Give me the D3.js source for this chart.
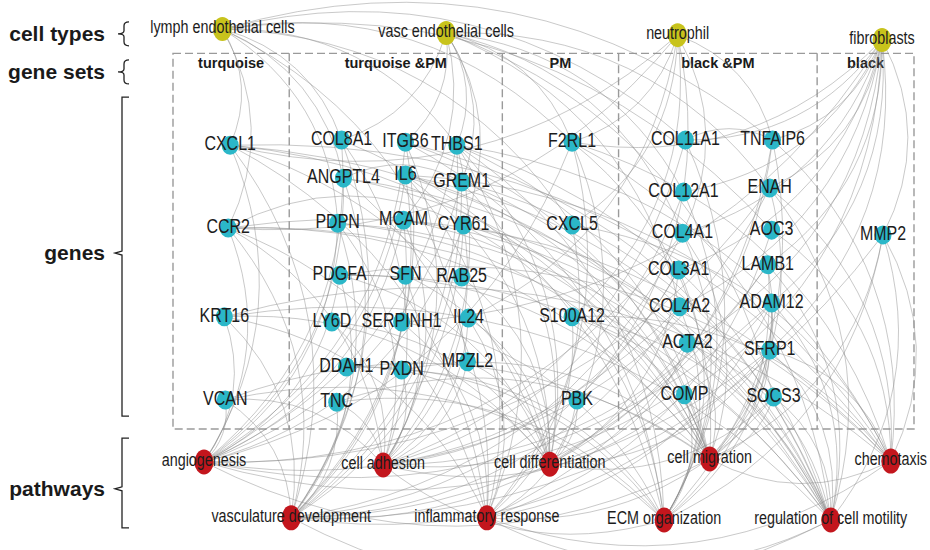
<!DOCTYPE html>
<html lang="en">
<head>
<meta charset="utf-8">
<title>Cell types, gene sets, genes and pathways</title>
<script src="https://cdn.jsdelivr.net/npm/d3@7"></script>
<style>
  body { margin: 0; background: #fff; }
  text { font-family: "Liberation Sans", Arial, sans-serif; }
</style>
</head>
<body>
<script>

// ---- data ----
var tierNames = ["cell types", "gene sets", "genes", "pathways"];

var cellTypes = ["lymph endothelial cells", "vasc endothelial cells", "neutrophil", "fibroblasts"];
var cellTypeCol = [0.51, 2.82, 5.21, 7.32];
var cellTypeRow = [-2.56, -2.47, -2.42, -2.31];

var geneSets = ["turquoise", "turquoise &PM", "PM", "black &PM", "black"];
var geneSetBounds = [0, 1.2, 3.4, 4.6, 6.65, 7.65];

var genes = ["CXCL1", "CCR2", "KRT16", "VCAN",
  "COL8A1", "ITGB6", "THBS1", "ANGPTL4", "IL6", "GREM1", "PDPN", "MCAM", "CYR61",
  "PDGFA", "SFN", "RAB25", "LY6D", "SERPINH1", "IL24", "DDAH1", "PXDN", "MPZL2", "TNC",
  "F2RL1", "CXCL5", "S100A12", "PBK",
  "COL11A1", "COL12A1", "COL4A1", "COL3A1", "COL4A2", "ACTA2", "COMP",
  "TNFAIP6", "ENAH", "AOC3", "LAMB1", "ADAM12", "SFRP1", "SOCS3",
  "MMP2"];
var geneCol = [0.59, 0.57, 0.53, 0.54,
  1.74, 2.40, 2.93, 1.76, 2.40, 2.98, 1.70, 2.38, 3.00,
  1.72, 2.40, 2.98, 1.64, 2.36, 3.05, 1.79, 2.36, 3.04, 1.69,
  4.12, 4.12, 4.12, 4.17,
  5.29, 5.27, 5.26, 5.22, 5.23, 5.31, 5.28,
  6.19, 6.16, 6.18, 6.14, 6.18, 6.16, 6.20,
  7.33];
var geneRow = [0.12, 2.03, 4.08, 6.0,
  0.0, 0.05, 0.12, 0.88, 0.81, 0.97, 1.92, 1.85, 1.96,
  3.12, 3.12, 3.16, 4.2, 4.2, 4.11, 5.24, 5.31, 5.12, 6.05,
  0.05, 1.96, 4.08, 6.0,
  0.0, 1.2, 2.15, 3.0, 3.85, 4.69, 5.88,
  0.0, 1.11, 2.08, 2.88, 3.76, 4.85, 5.93,
  2.19];

var pathways = ["angiogenesis", "cell adhesion", "cell differentiation", "cell migration", "chemotaxis",
  "vasculature development", "inflammatory response", "ECM organization", "regulation of cell motility"];
var pathwayCol = [0.32, 2.17, 3.89, 5.54, 7.41, 1.22, 3.24, 5.07, 6.79];
var pathwayRow = [7.43, 7.5, 7.48, 7.36, 7.41, 8.72, 8.72, 8.77, 8.77];

// links
var cellTypeGenes = [
  ["CXCL1", "CCR2", "PDPN", "ANGPTL4", "COL8A1", "F2RL1", "TNFAIP6", "COL11A1", "AOC3", "MPZL2", "THBS1", "CXCL5"],
  ["COL8A1", "MCAM", "CYR61", "THBS1", "COL4A1", "COL4A2", "ENAH", "ITGB6", "GREM1", "SOCS3", "COL12A1", "F2RL1"],
  ["CXCL1", "CXCL5", "S100A12", "CCR2", "TNFAIP6", "IL24", "F2RL1", "PBK", "COL4A1"],
  ["COL11A1", "TNFAIP6", "COL12A1", "COL3A1", "COL4A2", "LAMB1", "ADAM12", "SFRP1", "MMP2", "COMP", "ACTA2", "F2RL1", "ENAH", "SERPINH1", "COL4A1"]
];
var pathwayGenes = [
  ["CXCL1", "CCR2", "KRT16", "VCAN", "ANGPTL4", "IL6", "PDGFA", "CYR61", "THBS1", "GREM1", "COL8A1", "MCAM", "SFRP1", "COL4A2", "COL4A1", "ADAM12", "PDPN", "ITGB6", "F2RL1", "ENAH"],
  ["ITGB6", "MCAM", "COL8A1", "PDPN", "THBS1", "CYR61", "TNC", "LY6D", "COL11A1", "COL12A1", "LAMB1", "COMP", "ADAM12", "VCAN", "SFN", "MPZL2", "CCR2", "PXDN", "COL3A1", "IL24", "ENAH"],
  ["KRT16", "SFN", "IL6", "RAB25", "LY6D", "DDAH1", "ACTA2", "SOCS3", "SFRP1", "GREM1", "PDGFA", "COL3A1", "PBK", "MPZL2", "IL24", "CXCL1", "THBS1", "TNFAIP6", "F2RL1"],
  ["CXCL1", "CCR2", "IL6", "PDGFA", "THBS1", "CYR61", "ACTA2", "ENAH", "LAMB1", "ADAM12", "MMP2", "SFRP1", "F2RL1", "MCAM", "PDPN", "ITGB6", "ANGPTL4", "S100A12", "SOCS3", "COL4A1", "VCAN", "TNC", "GREM1", "PXDN"],
  ["CXCL1", "CCR2", "CXCL5", "S100A12", "IL6", "PDGFA", "F2RL1", "ENAH", "AOC3", "THBS1", "TNFAIP6", "MMP2", "KRT16", "SFRP1"],
  ["CXCL1", "VCAN", "KRT16", "ANGPTL4", "PDGFA", "CYR61", "THBS1", "GREM1", "COL8A1", "PDPN", "MCAM", "COL4A1", "COL3A1", "COL4A2", "SFRP1", "MMP2", "ACTA2", "TNC", "ITGB6", "IL6", "CCR2", "LAMB1"],
  ["CXCL1", "CCR2", "IL6", "CXCL5", "S100A12", "F2RL1", "TNFAIP6", "SOCS3", "IL24", "THBS1", "KRT16", "AOC3", "ANGPTL4", "PBK", "SERPINH1", "ADAM12"],
  ["COL8A1", "COL11A1", "COL12A1", "COL4A1", "COL3A1", "COL4A2", "COMP", "SERPINH1", "PXDN", "TNC", "LAMB1", "ADAM12", "MMP2", "VCAN", "THBS1", "TNFAIP6", "CYR61", "ITGB6", "DDAH1"],
  ["PDGFA", "THBS1", "CYR61", "ANGPTL4", "IL6", "SFRP1", "ENAH", "F2RL1", "MMP2", "SOCS3", "ITGB6", "MCAM", "PDPN", "ADAM12", "LAMB1", "ACTA2", "GREM1", "CXCL1", "CCR2", "S100A12", "KRT16"]
];
var otherLinks = [["COL11A1", "TNFAIP6"], ["ANGPTL4", "GREM1"], ["CCR2", "CYR61"],
  ["regulation of cell motility", "vasculature development"], ["ECM organization", "cell adhesion"],
  ["chemotaxis", "inflammatory response"], ["regulation of cell motility", "inflammatory response"],
  ["chemotaxis", "cell migration"], ["cell migration", "angiogenesis"]];

// ---- layout ----
var W = 930, H = 550;
var x = d3.scaleLinear().domain([0, 7.65]).range([173, 914]);
var y = d3.scaleLinear().domain([0, 6]).range([140, 400]);

var svg = d3.select("body").append("svg")
  .attr("width", W)
  .attr("height", H);

// node table built from the arrays
var nodes = {};
cellTypes.forEach(function(d, i) { nodes[d] = {name: d, kind: "cell", cx: x(cellTypeCol[i]), cy: y(cellTypeRow[i])}; });
genes.forEach(function(d, i) { nodes[d] = {name: d, kind: "gene", cx: x(geneCol[i]), cy: y(geneRow[i])}; });
pathways.forEach(function(d, i) { nodes[d] = {name: d, kind: "path", cx: x(pathwayCol[i]), cy: y(pathwayRow[i])}; });

var links = [];
cellTypes.forEach(function(c, i) { cellTypeGenes[i].forEach(function(g) { links.push([c, g]); }); });
pathways.forEach(function(p, i) { pathwayGenes[i].forEach(function(g) { links.push([g, p]); }); });
otherLinks.forEach(function(l) { links.push(l); });

// gene set boxes
var boxTop = y(-2.0), boxBottom = y(6.67);
svg.append("rect")
  .attr("x", x(geneSetBounds[0]))
  .attr("y", boxTop)
  .attr("width", x(geneSetBounds[5]) - x(geneSetBounds[0]))
  .attr("height", boxBottom - boxTop)
  .attr("fill", "none")
  .attr("stroke", "#9a9a9a")
  .attr("stroke-width", 1.4)
  .attr("stroke-dasharray", "8,4");

svg.selectAll("line.divider")
  .data(geneSetBounds.slice(1, 5))
  .enter()
  .append("line")
  .attr("class", "divider")
  .attr("x1", function(d) { return x(d); })
  .attr("x2", function(d) { return x(d); })
  .attr("y1", boxTop)
  .attr("y2", boxBottom)
  .attr("stroke", "#9a9a9a")
  .attr("stroke-width", 1.4)
  .attr("stroke-dasharray", "8,4");

svg.selectAll("text.set")
  .data(geneSets)
  .enter()
  .append("text")
  .attr("class", "set")
  .attr("x", function(d, i) { return x((geneSetBounds[i] + geneSetBounds[i + 1]) / 2); })
  .attr("y", y(-1.66))
  .attr("text-anchor", "middle")
  .attr("font-size", "14.5px")
  .attr("font-weight", "bold")
  .attr("fill", "#1a1a1a")
  .text(function(d) { return d; });

// edges: curved arcs like the network tool draws them
svg.append("g")
  .selectAll("path")
  .data(links)
  .enter()
  .append("path")
  .attr("class", "edge")
  .attr("d", function(l) {
    var a = nodes[l[0]], b = nodes[l[1]];
    var dx = b.cx - a.cx, dy = b.cy - a.cy;
    var mx = (a.cx + b.cx) / 2 + dy * 0.26, my = (a.cy + b.cy) / 2 - dx * 0.26;
    return "M" + a.cx + "," + a.cy + "Q" + mx + "," + my + " " + b.cx + "," + b.cy;
  })
  .attr("fill", "none")
  .attr("stroke", "#8a8a8a")
  .attr("stroke-opacity", 0.55)
  .attr("stroke-width", 0.85);

// nodes
var colour = {cell: "#c8c31c", gene: "#2bb7c8", path: "#c3161d"};
var rx = {cell: 9.5, gene: 8.5, path: 9.5};
var ry = {cell: 12, gene: 9.5, path: 12.5};
var nodeList = Object.values(nodes);

svg.append("g")
  .selectAll("ellipse")
  .data(nodeList)
  .enter()
  .append("ellipse")
  .attr("cx", function(d) { return d.cx; })
  .attr("cy", function(d) { return d.cy; })
  .attr("rx", function(d) { return rx[d.kind]; })
  .attr("ry", function(d) { return ry[d.kind]; })
  .attr("fill", function(d) { return colour[d.kind]; });

// labels over the nodes, narrow face
svg.append("g")
  .selectAll("text")
  .data(nodeList)
  .enter()
  .append("text")
  .attr("transform", function(d) {
    return "translate(" + d.cx + "," + (d.cy + (d.kind == "gene" ? 5 : 4)) + ") scale(0.82,1)";
  })
  .attr("text-anchor", "middle")
  .attr("font-size", function(d) { return d.kind == "gene" ? "19.5px" : "17.5px"; })
  .attr("fill", "#1c1c1c")
  .text(function(d) { return d.name; });

// tier names and brackets on the left
var tierY = [y(-2.45), y(-1.57), y(2.61), y(8.05)];
svg.selectAll("text.tier")
  .data(tierNames)
  .enter()
  .append("text")
  .attr("class", "tier")
  .attr("x", 105)
  .attr("y", function(d, i) { return tierY[i] + 7; })
  .attr("text-anchor", "end")
  .attr("font-size", "21px")
  .attr("font-weight", "bold")
  .attr("fill", "#1a1a1a")
  .text(function(d) { return d; });

function curly(cy, h) {
  var t = cy - h / 2, b = cy + h / 2;
  return "M129," + t + " Q124," + t + " 124," + (t + 4) + " L124," + (cy - 3) +
    " Q124," + cy + " 118," + cy + " Q124," + cy + " 124," + (cy + 3) +
    " L124," + (b - 4) + " Q124," + b + " 129," + b;
}
function bracket(t, b, mid) {
  return "M129," + t + " L122," + t + " L122," + (mid - 2) + " L115," + mid +
    " L122," + (mid + 2) + " L122," + b + " L129," + b;
}
var marks = svg.append("g")
  .attr("fill", "none")
  .attr("stroke", "#222")
  .attr("stroke-width", 1.3);
marks.append("path").attr("d", curly(tierY[0], 24));
marks.append("path").attr("d", curly(tierY[1], 24));
marks.append("path").attr("d", bracket(y(-0.99), y(6.37), tierY[2]));
marks.append("path").attr("d", bracket(y(6.88), y(8.95), tierY[3]));

</script>
</body>
</html>
